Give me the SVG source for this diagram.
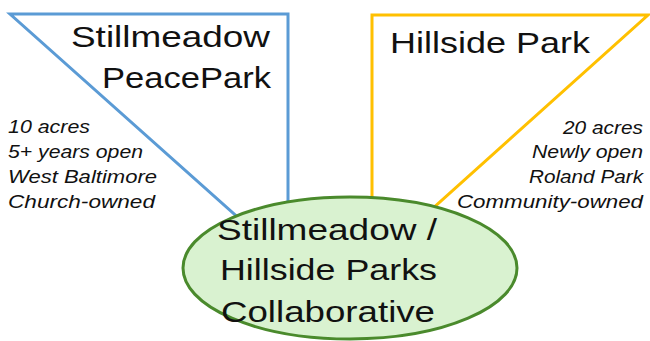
<svg xmlns="http://www.w3.org/2000/svg" width="650" height="341" viewBox="0 0 650 341">
<style>
.t{font-family:"Liberation Sans",Arial,sans-serif;fill:#111;}
.big{font-size:30px;}
.it{font-size:18px;font-style:italic;}
.tri{fill:none;stroke-width:3;stroke-linejoin:miter;}
</style>
<rect width="650" height="341" fill="#fff"/>
<g id="connectors">
<polygon class="tri" points="10,14 288,14 288,262" stroke="#5B9BD5"/>
<polygon class="tri" points="372,15 648,15 372,263" stroke="#FFC000"/>
</g>
<g id="stillmeadow">
<text class="t big" x="71" y="47" textLength="199" lengthAdjust="spacingAndGlyphs">Stillmeadow</text>
<text class="t big" x="102" y="88" textLength="169" lengthAdjust="spacingAndGlyphs">PeacePark</text>
<text class="t it" x="8" y="133" textLength="82" lengthAdjust="spacingAndGlyphs">10 acres</text>
<text class="t it" x="8" y="158" textLength="135" lengthAdjust="spacingAndGlyphs">5+ years open</text>
<text class="t it" x="8" y="183" textLength="149" lengthAdjust="spacingAndGlyphs">West Baltimore</text>
<text class="t it" x="8" y="208" textLength="147" lengthAdjust="spacingAndGlyphs">Church-owned</text>
</g>
<g id="hillside">
<text class="t big" x="390" y="53" textLength="200" lengthAdjust="spacingAndGlyphs">Hillside Park</text>
<text class="t it" x="563" y="134" textLength="80" lengthAdjust="spacingAndGlyphs">20 acres</text>
<text class="t it" x="532" y="158" textLength="111" lengthAdjust="spacingAndGlyphs">Newly open</text>
<text class="t it" x="529" y="183" textLength="114" lengthAdjust="spacingAndGlyphs">Roland Park</text>
<text class="t it" x="457" y="208" textLength="186" lengthAdjust="spacingAndGlyphs">Community-owned</text>
</g>
<g id="collaborative">
<ellipse cx="350" cy="268" rx="167" ry="71" fill="#D9F2D0" stroke="#4A8A2C" stroke-width="3"/>
<text class="t big" x="217" y="240" textLength="220" lengthAdjust="spacingAndGlyphs">Stillmeadow /</text>
<text class="t big" x="220" y="280" textLength="217" lengthAdjust="spacingAndGlyphs">Hillside Parks</text>
<text class="t big" x="221" y="322" textLength="214" lengthAdjust="spacingAndGlyphs">Collaborative</text>
</g>
</svg>
